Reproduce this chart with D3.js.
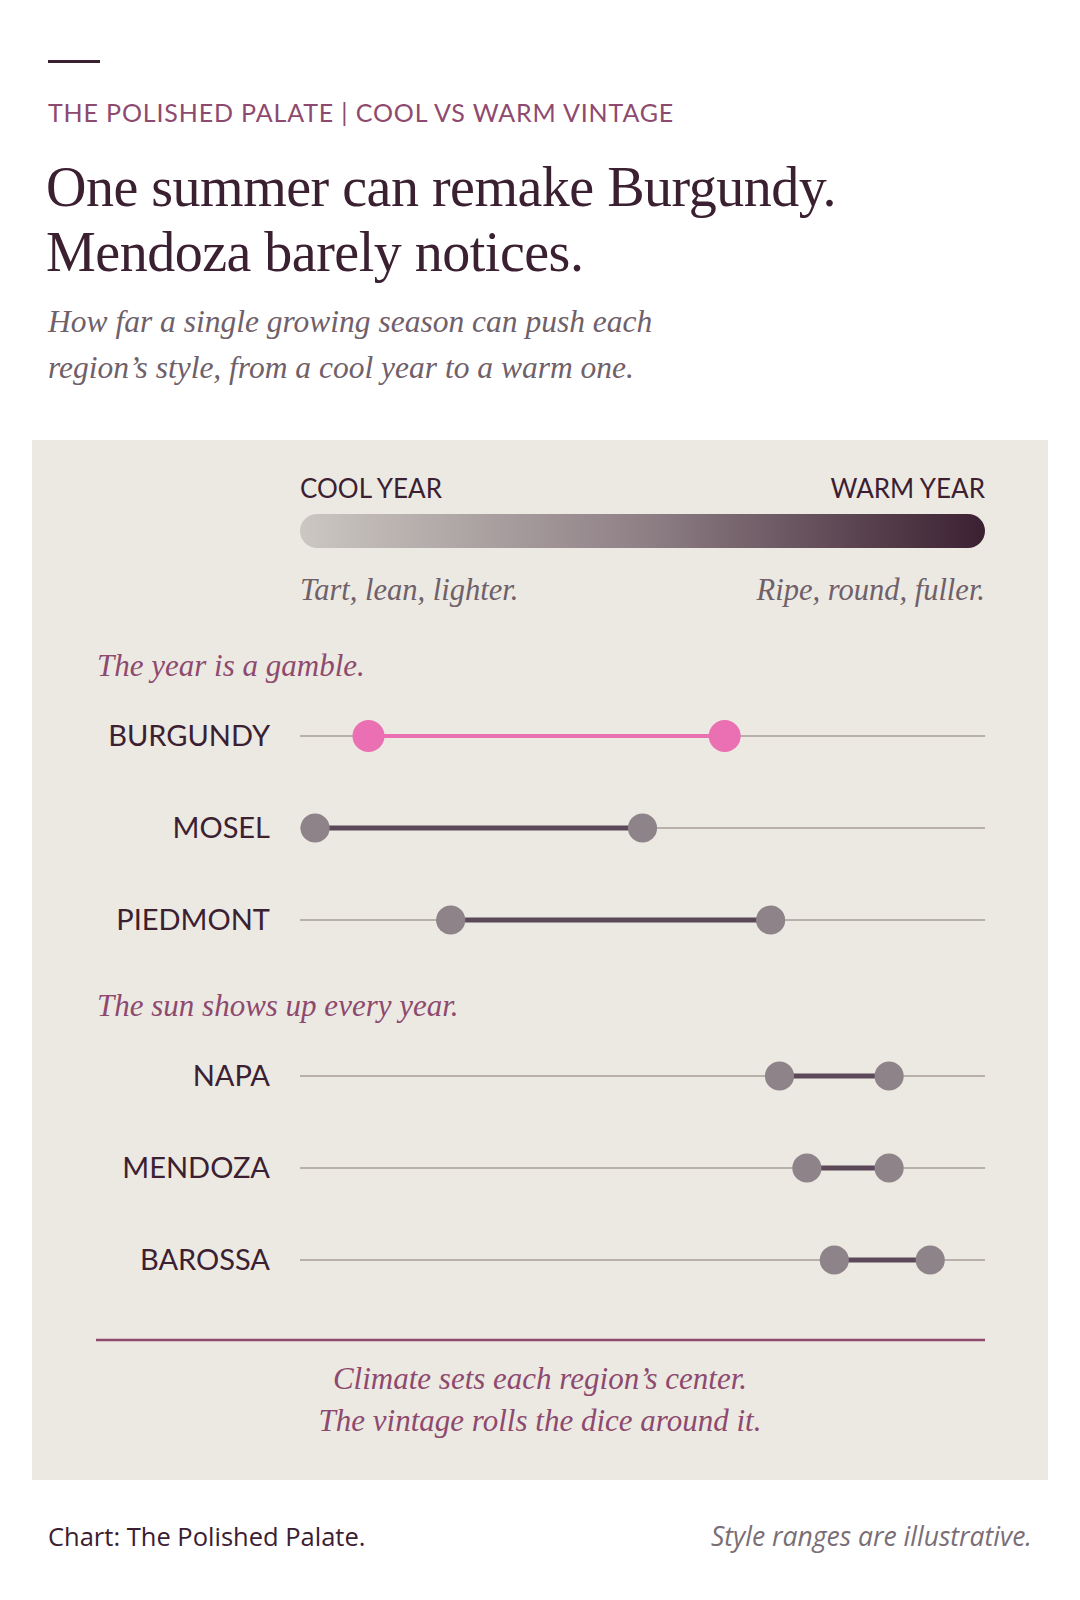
<!DOCTYPE html>
<html>
<head>
<meta charset="utf-8">
<script src="https://cdn.jsdelivr.net/npm/d3@7"></script>
<style>
  body { margin: 0; background: #fff; }
  .serif { font-family: "Liberation Serif", "DejaVu Serif", serif; }
  .sans { font-family: Lato, "Open Sans", sans-serif; }
</style>
</head>
<body>
<div id="chart"></div>
<script>
// wine regions, style position in a cool vintage vs a warm vintage (0 = tart, 100 = ripe)
var regions   = ["BURGUNDY", "MOSEL", "PIEDMONT", "NAPA", "MENDOZA", "BAROSSA"];
var groupOf   = [0, 0, 0, 1, 1, 1];
var coolYear  = [10, 2.2, 22, 70, 74, 78];
var warmYear  = [62, 50, 68.7, 86, 86, 92];
var groupNames = ["The year is a gamble.", "The sun shows up every year."];

(function () {
    var width = 1080,
        height = 1600;

    var ink = "#3b2031",
        plum = "#8e4a6e",
        pink = "#eb6fb3";

    var svg = d3.select("#chart")
        .append("svg")
        .attr("width", width)
        .attr("height", height);

    svg.append("rect").attr("width", width).attr("height", height).attr("fill", "#fff");

    var defs = svg.append("defs");
    var grad = defs.append("linearGradient").attr("id", "warmth");
    grad.append("stop").attr("offset", "0%").attr("stop-color", "#cbc7c1");
    grad.append("stop").attr("offset", "50%").attr("stop-color", "#8f8086");
    grad.append("stop").attr("offset", "100%").attr("stop-color", "#3b2031");

    // header
    svg.append("rect").attr("x", 48).attr("y", 60).attr("width", 52).attr("height", 3).attr("fill", ink);

    svg.append("text")
        .attr("class", "sans")
        .attr("x", 48).attr("y", 122)
        .attr("font-size", 25)
        .attr("letter-spacing", 0.85)
        .attr("fill", plum)
        .text("THE POLISHED PALATE | COOL VS WARM VINTAGE");

    var title = ["One summer can remake Burgundy.", "Mendoza barely notices."];
    svg.selectAll(".title")
        .data(title)
        .enter().append("text")
        .attr("class", "title serif")
        .attr("x", 46)
        .attr("y", function (d, i) { return 206 + i * 65; })
        .attr("font-size", 56)
        .attr("fill", ink)
        .attr("letter-spacing", -0.5)
        .text(function (d) { return d; });

    var sub = ["How far a single growing season can push each", "region\u2019s style, from a cool year to a warm one."];
    svg.selectAll(".sub")
        .data(sub)
        .enter().append("text")
        .attr("class", "sub serif")
        .attr("x", 48)
        .attr("y", function (d, i) { return 332 + i * 46; })
        .attr("font-size", 31.5)
        .attr("font-style", "italic")
        .attr("fill", "#6f6069")
        .text(function (d) { return d; });

    // panel
    svg.append("rect")
        .attr("x", 32).attr("y", 440)
        .attr("width", 1016).attr("height", 1040)
        .attr("fill", "#ece9e3");

    var x = d3.scaleLinear().domain([0, 100]).range([300, 985]);

    // legend
    svg.append("text").attr("class", "sans")
        .attr("x", x(0)).attr("y", 498)
        .attr("font-size", 26).attr("fill", ink)
        .text("COOL YEAR");
    svg.append("text").attr("class", "sans")
        .attr("x", x(100)).attr("y", 498)
        .attr("text-anchor", "end")
        .attr("font-size", 26).attr("fill", ink)
        .text("WARM YEAR");

    svg.append("rect")
        .attr("x", x(0)).attr("y", 514)
        .attr("width", x(100) - x(0)).attr("height", 34)
        .attr("rx", 17)
        .attr("fill", "url(#warmth)");

    svg.append("text").attr("class", "serif")
        .attr("x", x(0)).attr("y", 600)
        .attr("font-size", 30.5).attr("font-style", "italic")
        .attr("fill", "#6f6069")
        .text("Tart, lean, lighter.");
    svg.append("text").attr("class", "serif")
        .attr("x", x(100)).attr("y", 600)
        .attr("text-anchor", "end")
        .attr("font-size", 30.5).attr("font-style", "italic")
        .attr("fill", "#6f6069")
        .text("Ripe, round, fuller.");

    // rows
    var rowGap = 92, groupGap = 64, firstRow = 736;
    var rows = regions.map(function (r, i) {
        return {
            name: r,
            group: groupOf[i],
            cool: coolYear[i],
            warm: warmYear[i],
            y: firstRow + i * rowGap + groupOf[i] * groupGap
        };
    });

    groupNames.forEach(function (g, gi) {
        var firstY = d3.min(rows.filter(function (d) { return d.group === gi; }), function (d) { return d.y; });
        svg.append("text").attr("class", "serif")
            .attr("x", 97).attr("y", firstY - 60)
            .attr("font-size", 31).attr("font-style", "italic")
            .attr("fill", plum)
            .text(g);
    });

    var row = svg.selectAll(".row")
        .data(rows)
        .enter().append("g")
        .attr("class", "row")
        .attr("transform", function (d) { return "translate(0," + d.y + ")"; });

    row.append("text")
        .attr("class", "sans")
        .attr("x", 270).attr("y", 10)
        .attr("text-anchor", "end")
        .attr("font-size", 29)
        .attr("fill", ink)
        .text(function (d) { return d.name; });

    row.append("line")
        .attr("x1", x(0)).attr("x2", x(100))
        .attr("stroke", "#b8b1ab").attr("stroke-width", 2);

    row.append("line")
        .attr("x1", function (d) { return x(d.cool); })
        .attr("x2", function (d) { return x(d.warm); })
        .attr("stroke", function (d) { return d.name === "BURGUNDY" ? pink : "#5b4858"; })
        .attr("stroke-width", function (d) { return d.name === "BURGUNDY" ? 4 : 5; });

    row.selectAll("circle")
        .data(function (d) { return [d.cool, d.warm].map(function (v) { return { v: v, hi: d.name === "BURGUNDY" }; }); })
        .enter().append("circle")
        .attr("cx", function (d) { return x(d.v); })
        .attr("r", function (d) { return d.hi ? 16 : 14.6; })
        .attr("fill", function (d) { return d.hi ? pink : "#8e8389"; });

    // closing note
    svg.append("line")
        .attr("x1", 96).attr("x2", x(100))
        .attr("y1", 1340).attr("y2", 1340)
        .attr("stroke", plum).attr("stroke-width", 2.5);

    var note = ["Climate sets each region\u2019s center.", "The vintage rolls the dice around it."];
    svg.selectAll(".note")
        .data(note)
        .enter().append("text")
        .attr("class", "note serif")
        .attr("x", 540)
        .attr("y", function (d, i) { return 1389 + i * 42; })
        .attr("text-anchor", "middle")
        .attr("font-size", 31).attr("font-style", "italic")
        .attr("fill", plum)
        .text(function (d) { return d; });

    // footer
    svg.append("text")
        .attr("x", 48).attr("y", 1546)
        .attr("font-family", "'Open Sans', sans-serif")
        .attr("font-size", 25.5)
        .attr("fill", ink)
        .text("Chart: The Polished Palate.");
    svg.append("text")
        .attr("x", 1032).attr("y", 1546)
        .attr("text-anchor", "end")
        .attr("font-family", "'Open Sans', sans-serif")
        .attr("font-size", 26.5).attr("font-style", "italic")
        .attr("fill", "#7a6e76")
        .text("Style ranges are illustrative.");
})();
</script>
</body>
</html>
